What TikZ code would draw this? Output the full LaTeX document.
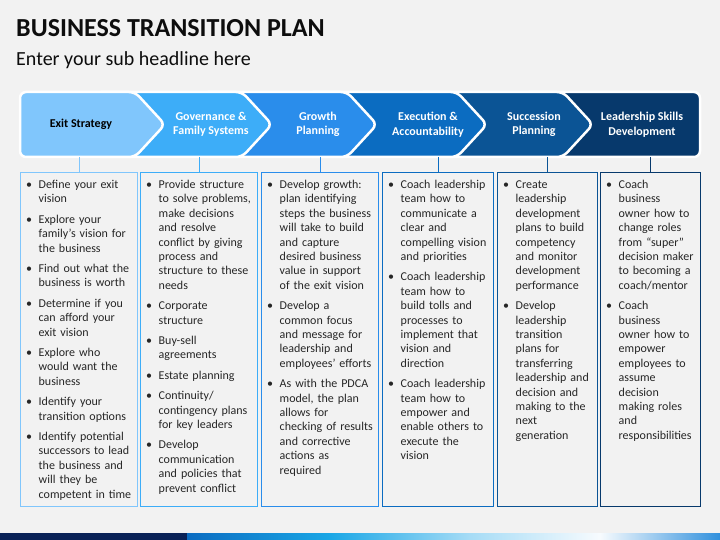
\documentclass[tikz,border=0pt]{standalone}
\usepackage{fontspec}
\setmainfont{Carlito}
\usepackage{xcolor}
\usepackage{tikz}
\usetikzlibrary{arrows.meta, positioning}

\definecolor{bgcol}{HTML}{F2F2F2}
\definecolor{stepa}{HTML}{80C6FC}
\definecolor{stepb}{HTML}{3DADF8}
\definecolor{stepc}{HTML}{2A8DEB}
\definecolor{stepd}{HTML}{0B6CC1}
\definecolor{stepe}{HTML}{0B5495}
\definecolor{stepf}{HTML}{07396C}
\definecolor{navy}{HTML}{0A2257}

\newcommand{\bpoint}[1]{\par\hangindent=12.5pt\hangafter=1\noindent\makebox[12.5pt][l]{\textbullet}#1\par\vspace{6pt}}

\begin{document}
\begin{tikzpicture}[
    x=1pt, y=-1pt,
    head/.style={font=\bfseries\fontsize{12}{14.6}\selectfont, text=white, align=center, inner sep=0pt},
    chev/.style={draw=white, line width=2.5pt, rounded corners=6pt},
    colbox/.style={draw, line width=1.4pt, fill=bgcol, anchor=north west, minimum height=334pt, inner sep=0pt},
    coltext/.style={anchor=north west, inner sep=0pt, font=\fontsize{12}{14.4}\selectfont, text=black!85},
    link/.style={line width=1.4pt}
]

% Background
\fill [bgcol] (0,0) rectangle (720,540);
\useasboundingbox (0,0) rectangle (720,540);

% Title
\node (title) [anchor=west, inner sep=0pt, font=\bfseries\fontsize{26}{30}\selectfont, text=black!95] at (16,28.5) {BUSINESS TRANSITION PLAN};
\node (sub) [anchor=base west, inner sep=0pt, font=\fontsize{20}{24}\selectfont, text=black!95] at (16,65.5) {Enter your sub headline here};

% Header band (last step first, so every tip lies on the next step)
\path [chev, fill=stepf] (523,92) -- (700,92) -- (700,157) -- (523,157) -- cycle;
\path [chev, fill=stepe] (417,92) -- (563,92) -- (593,124.5) -- (563,157) -- (417,157) -- cycle;
\path [chev, fill=stepd] (307,92) -- (457,92) -- (487,124.5) -- (457,157) -- (307,157) -- cycle;
\path [chev, fill=stepc] (202,92) -- (347,92) -- (377,124.5) -- (347,157) -- (202,157) -- cycle;
\path [chev, fill=stepb] (95,92) -- (242,92) -- (272,124.5) -- (242,157) -- (95,157) -- cycle;
\path [chev, fill=stepa] (20,92) -- (135,92) -- (165,124.5) -- (135,157) -- (20,157) -- cycle;
\coordinate (bandbot) at (0,157);

% Step titles
\node (h1) [head, text=black] at (81,124.5) {Exit Strategy};
\node (h2) [head] at (211,124.5) {Governance \&\\Family Systems};
\node (h3) [head] at (318,124.5) {Growth\\Planning};
\node (h4) [head] at (428,124.5) {Execution \&\\Accountability};
\node (h5) [head] at (534,124.5) {Succession\\Planning};
\node (h6) [head] at (642,124.5) {Leadership Skills\\Development};

% Columns
\node (c1) [colbox, draw=stepa, minimum width=117pt] at (20,172) {};
\node (c2) [colbox, draw=stepb, minimum width=117pt] at (140,172) {};
\node (c3) [colbox, draw=stepc, minimum width=117pt] at (261,172) {};
\node (c4) [colbox, draw=stepd, minimum width=111pt] at (382,172) {};
\node (c5) [colbox, draw=stepe, minimum width=100pt] at (497,172) {};
\node (c6) [colbox, draw=stepf, minimum width=100pt] at (600,172) {};

% Links from the band down to the columns
\draw [link, stepa] (c1.north |- bandbot) -- (c1.north);
\draw [link, stepb] (c2.north |- bandbot) -- (c2.north);
\draw [link, stepc] (c3.north |- bandbot) -- (c3.north);
\draw [link, stepd] (c4.north |- bandbot) -- (c4.north);
\draw [link, stepe] (c5.north |- bandbot) -- (c5.north);
\draw [link, stepf] (c6.north |- bandbot) -- (c6.north);

% Column texts
\node (t1) [coltext, text width=112pt] at ([xshift=6pt, yshift=-2pt]c1.north west) {%
\bpoint{Define your exit\newline vision}
\bpoint{Explore your\newline family’s vision for\newline the business}
\bpoint{Find out what the\newline business is worth}
\bpoint{Determine if you\newline can afford your\newline exit vision}
\bpoint{Explore who\newline would want the\newline business}
\bpoint{Identify your\newline transition options}
\bpoint{Identify potential\newline successors to lead\newline the business and\newline will they be\newline competent in time}};

\node (t2) [coltext, text width=112pt] at ([xshift=6pt, yshift=-2pt]c2.north west) {%
\bpoint{Provide structure\newline to solve problems,\newline make decisions\newline and resolve\newline conflict by giving\newline process and\newline structure to these\newline needs}
\bpoint{Corporate\newline structure}
\bpoint{Buy-sell\newline agreements}
\bpoint{Estate planning}
\bpoint{Continuity/\newline contingency plans\newline for key leaders}
\bpoint{Develop\newline communication\newline and policies that\newline prevent conflict}};

\node (t3) [coltext, text width=112pt] at ([xshift=6pt, yshift=-2pt]c3.north west) {%
\bpoint{Develop growth:\newline plan identifying\newline steps the business\newline will take to build\newline and capture\newline desired business\newline value in support\newline of the exit vision}
\bpoint{Develop a\newline common focus\newline and message for\newline leadership and\newline employees’ efforts}
\bpoint{As with the PDCA\newline model, the plan\newline allows for\newline checking of results\newline and corrective\newline actions as\newline required}};

\node (t4) [coltext, text width=106pt] at ([xshift=6pt, yshift=-2pt]c4.north west) {%
\bpoint{Coach leadership\newline team how to\newline communicate a\newline clear and\newline compelling vision\newline and priorities}
\bpoint{Coach leadership\newline team how to\newline build tolls and\newline processes to\newline implement that\newline vision and\newline direction}
\bpoint{Coach leadership\newline team how to\newline empower and\newline enable others to\newline execute the\newline vision}};

\node (t5) [coltext, text width=95pt] at ([xshift=6pt, yshift=-2pt]c5.north west) {%
\bpoint{Create\newline leadership\newline development\newline plans to build\newline competency\newline and monitor\newline development\newline performance}
\bpoint{Develop\newline leadership\newline transition\newline plans for\newline transferring\newline leadership and\newline decision and\newline making to the\newline next\newline generation}};

\node (t6) [coltext, text width=95pt] at ([xshift=6pt, yshift=-2pt]c6.north west) {%
\bpoint{Coach\newline business\newline owner how to\newline change roles\newline from “super”\newline decision maker\newline to becoming a\newline coach/mentor}
\bpoint{Coach\newline business\newline owner how to\newline empower\newline employees to\newline assume\newline decision\newline making roles\newline and\newline responsibilities}};

% Bottom bar
\fill [navy] (0,533) rectangle (187,540);
\shade [left color=stepd, right color={rgb,255:red,26;green,167;blue,230}] (187,533) rectangle (330,540);
\shade [left color={rgb,255:red,26;green,167;blue,230}, right color={rgb,255:red,166;green,220;blue,246}] (330,533) rectangle (470,540);
\shade [left color={rgb,255:red,166;green,220;blue,246}, right color={rgb,255:red,247;green,251;blue,254}] (470,533) rectangle (600,540);
\shade [left color={rgb,255:red,247;green,251;blue,254}, right color={rgb,255:red,48;green,144;blue,221}] (600,533) rectangle (720,540);

\end{tikzpicture}
\end{document}
